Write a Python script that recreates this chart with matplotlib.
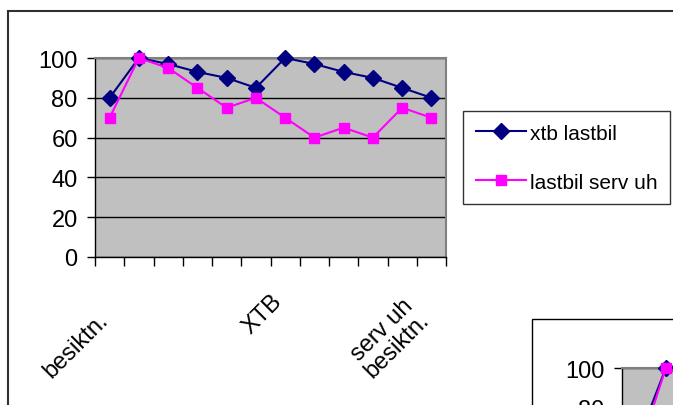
import matplotlib
matplotlib.use("Agg")
import matplotlib.pyplot as plt
import matplotlib.patches as patches
from matplotlib.transforms import ScaledTranslation

plt.rcParams['font.family'] = ['Liberation Sans', 'DejaVu Sans']

# monthly share for the two truck groups
categories = ['\nbesiktn.', '', '', '', '', '', 'XTB', '', '', '', '', 'serv uh\nbesiktn.']
xtb_lastbil = [80, 100, 97, 93, 90, 85, 100, 97, 93, 90, 85, 80]
lastbil_serv_uh = [70, 100, 95, 85, 75, 80, 70, 60, 65, 60, 75, 70]
series_names = ['xtb lastbil', 'lastbil serv uh']

# second chart further down the sheet (only its first points are on screen)
xtb_lastbil_2 = [62, 100, 97]
lastbil_serv_uh_2 = [55, 100, 95]

W, H = 673, 406
fig = plt.figure(figsize=(W / 100, H / 100), dpi=100)
fig.patch.set_facecolor('white')

NAVY = '#000080'
PINK = '#FF00FF'
FS = 17


def px(x0, y0, x1, y1):
    # left/top/right/bottom in pixels -> figure fraction rect
    return [x0 / W, 1 - y1 / H, (x1 - x0) / W, (y1 - y0) / H]


def shift(dx, dy):
    # offset in pixels (dy positive = down)
    return ScaledTranslation(dx / 100, -dy / 100, fig.dpi_scale_trans)


def draw_chart(ax, a, b):
    n = len(categories)
    ax.set_facecolor('#C0C0C0')
    ax.plot(range(len(a)), a, color=NAVY, lw=1.5, marker='D', ms=8,
            mfc=NAVY, mec=NAVY, label=series_names[0], clip_on=False, zorder=3)
    ax.plot(range(len(b)), b, color=PINK, lw=1.5, marker='s', ms=7.5,
            mfc=PINK, mec=PINK, label=series_names[1], clip_on=False, zorder=4)
    ax.set_xlim(-0.5, n - 0.5)
    ax.set_ylim(0, 100)
    ax.set_yticks(range(0, 101, 20))
    ax.yaxis.grid(True, color='black', lw=1)
    ax.set_axisbelow(True)
    ax.set_xticks([i - 0.5 for i in range(n + 1)])
    ax.set_xticklabels([])
    ax.tick_params(axis='x', which='major', direction='out', length=6.5, width=1, color='black')
    ax.tick_params(axis='y', direction='out', length=5.5, width=1, pad=7, labelsize=FS)
    ax.set_xticks(range(n), minor=True)
    ax.set_xticklabels(categories, minor=True, rotation=45, ha='right',
                       va='center', rotation_mode='anchor', fontsize=FS,
                       multialignment='center', linespacing=1.0)
    ax.tick_params(axis='x', which='minor', length=0, pad=26)
    for side in ['top', 'right']:
        ax.spines[side].set_color('#808080')
        ax.spines[side].set_linewidth(1.5)
    for side in ['left', 'bottom']:
        ax.spines[side].set_color('black')
        ax.spines[side].set_linewidth(1)


ax = fig.add_axes(px(95, 59, 446, 258))
draw_chart(ax, xtb_lastbil, lastbil_serv_uh)

# drop the category labels a little lower and to the left
for lab in ax.get_xticklabels(minor=True):
    if lab.get_text() == 'XTB':
        lab.set_transform(lab.get_transform() + shift(-7, 4))
    else:
        lab.set_transform(lab.get_transform() + shift(-13, 15))

leg = ax.legend(loc='upper left', bbox_to_anchor=(463 / W, 1 - 112 / H),
                bbox_transform=fig.transFigure, fontsize=15, frameon=True,
                fancybox=False, edgecolor='black', handlelength=2.4,
                handletextpad=0.2, labelspacing=1.45, borderpad=0.6,
                borderaxespad=0, markerscale=1.0)
leg.get_frame().set_linewidth(1)

# chart frame
fig.patches.append(patches.Rectangle((8 / W, -0.5), 2, 1 - 12 / H + 0.5,
                                     transform=fig.transFigure, fill=False,
                                     edgecolor='#303030', lw=1.5))

# second chart below
fig.patches.append(patches.Rectangle((532 / W, -0.5), 2, 1 - 320 / H + 0.5,
                                     transform=fig.transFigure, fill=False,
                                     edgecolor='black', lw=1))
ax2 = fig.add_axes(px(622, 369, 973, 568))
draw_chart(ax2, xtb_lastbil_2, lastbil_serv_uh_2)

fig.savefig('out.png', dpi=100)
